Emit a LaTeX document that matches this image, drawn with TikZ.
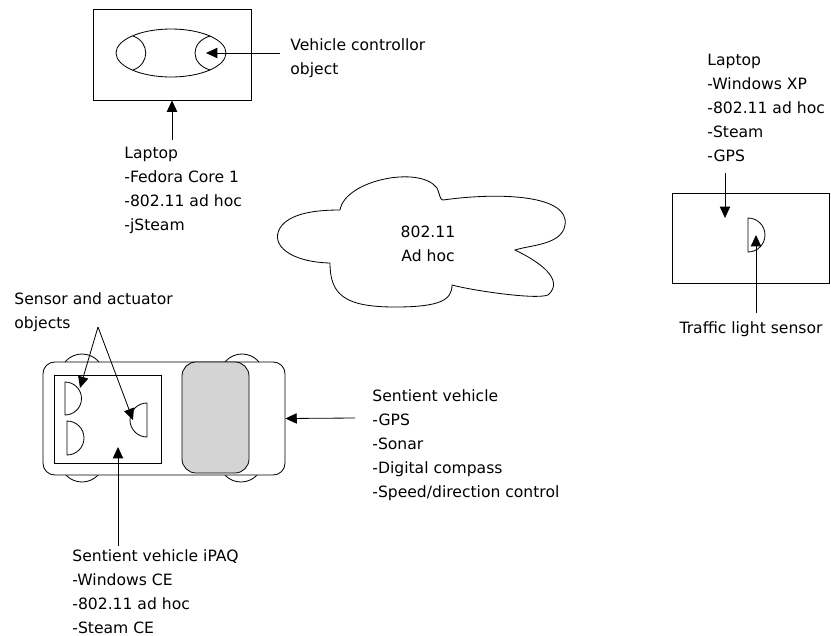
\documentclass[tikz,border=0pt]{standalone}
\usepackage{fontspec}
\setmainfont{DejaVu Sans}
\usetikzlibrary{arrows.meta}

\begin{document}
\begin{tikzpicture}[x=0.03cm, y=-0.03cm, line width=0.7pt,
    flecha/.style={-{Triangle[length=3.4mm, width=3.1mm]}},
    etiqueta/.style={anchor=north west, inner sep=0pt, align=left,
      font=\fontsize{13.3}{20.5}\selectfont},
    caja/.style={draw, inner sep=0pt}]
  \useasboundingbox (0,0) rectangle (831,635);

  % Laptop con el objeto controlador
  \node[caja, minimum width=4.74cm, minimum height=2.73cm] (ctrlbox) at (172,54.5) {};
  \draw (171,53) ellipse [x radius=55, y radius=24];
  \draw (133,36) .. controls (150,42) and (150,64) .. (133,70);
  \draw (210,36) .. controls (190,42) and (190,64) .. (210,70);
  \coordinate (ctrlobj) at (206,53);
  \coordinate (ctrltail) at (280,53);
  \draw[flecha] (ctrltail) -- (ctrlobj);
  \node[etiqueta] (vco) at (290,38) {Vehicle controllor\\object};
  \coordinate (laptail) at (172,140);
  \draw[flecha] (laptail) -- (ctrlbox.south);
  \node[etiqueta] (lapL) at (124,147) {Laptop\\-Fedora Core 1\\-802.11 ad hoc\\-jSteam};

  % Nube 802.11
  \draw (340,210) .. controls (345,180) and (420,165) .. (437,188)
    .. controls (440,195) and (440,200) .. (443,200)
    .. controls (500,192) and (570,195) .. (565,225)
    .. controls (562,245) and (530,245) .. (515,250)
    .. controls (540,262) and (565,280) .. (548,295)
    .. controls (535,300) and (470,290) .. (452,285)
    .. controls (452,300) and (440,307) .. (395,307)
    .. controls (345,307) and (330,295) .. (330,263)
    .. controls (290,262) and (270,245) .. (280,228)
    .. controls (290,212) and (320,210) .. (340,210) -- cycle;
  \node[etiqueta, anchor=north, align=center] (wifi) at (428,226) {802.11\\Ad hoc};

  % Laptop del semaforo
  \node[etiqueta] (lapR) at (707,54) {Laptop\\-Windows XP\\-802.11 ad hoc\\-Steam\\-GPS};
  \node[caja, minimum width=4.71cm, minimum height=2.7cm] (tlbox) at (750.5,238) {};
  \coordinate (tltail) at (725,173);
  \coordinate (tltip) at (725,218);
  \draw[flecha] (tltail) -- (tltip);
  \draw (748,218) arc[start angle=-90, end angle=90, radius=17] -- cycle;
  \coordinate (senstail) at (756,313);
  \coordinate (senstip) at (756,235);
  \draw[flecha] (senstail) -- (senstip);
  \node[etiqueta, anchor=north] (tls) at (751,321) {Traffic light sensor};

  % Vehiculo: ruedas, carroceria y ventana
  \foreach \wx/\wy in {82/376, 242/376, 82/460, 241/460}
    \draw (\wx,\wy) circle [radius=22];
  \node[caja, fill=white, rounded corners=10pt, minimum width=7.26cm,
    minimum height=3.39cm] (car) at (164,418.5) {};
  \node[caja, fill=black!17, rounded corners=12pt, minimum width=2.01cm,
    minimum height=3.33cm] (window) at (215.5,417.5) {};
  \node[caja, minimum width=3.21cm, minimum height=2.64cm] (ipaq) at (107.5,419) {};

  % Sensores y actuadores
  \draw (65,382) arc[start angle=-90, end angle=90, radius=16.5] -- cycle;
  \draw (67,421) arc[start angle=-90, end angle=90, radius=17] -- cycle;
  \draw (147,403) arc[start angle=-90, end angle=-270, radius=17] -- cycle;

  % Flechas y etiquetas del vehiculo
  \node[etiqueta] (sao) at (14,292) {Sensor and actuator\\objects};
  \coordinate (satail) at (98,327);
  \coordinate (sa1) at (80,388);
  \coordinate (sa2) at (133,420);
  \draw[flecha] (satail) -- (sa1);
  \draw[flecha] (satail) -- (sa2);
  \coordinate (cartail) at (355,418);
  \draw[flecha] (cartail) -- (car.east);
  \node[etiqueta] (sv) at (372,389) {Sentient vehicle\\-GPS\\-Sonar\\-Digital compass\\-Speed/direction control};
  \coordinate (ipaqtail) at (118,546);
  \coordinate (ipaqtip) at (118,447);
  \draw[flecha] (ipaqtail) -- (ipaqtip);
  \node[etiqueta] (ipaqlbl) at (72,549) {Sentient vehicle iPAQ\\-Windows CE\\-802.11 ad hoc\\-Steam CE};
\end{tikzpicture}
\end{document}
